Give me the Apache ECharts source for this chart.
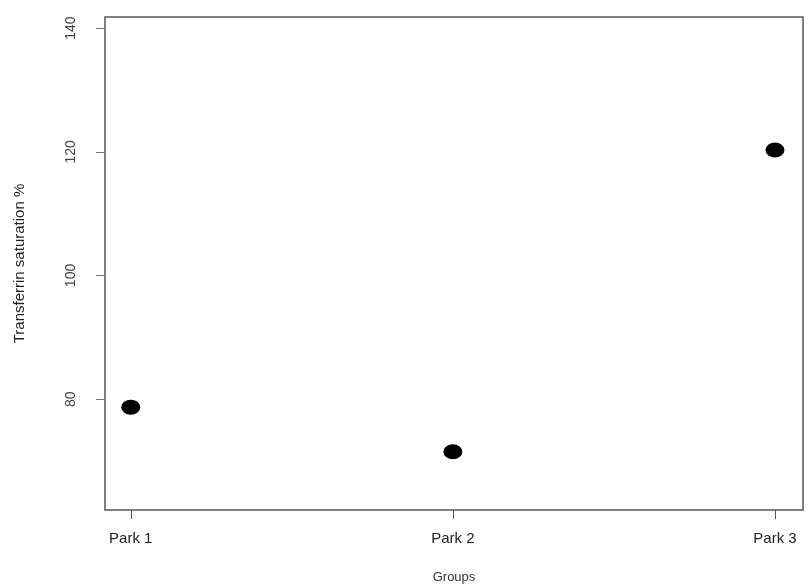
<!DOCTYPE html>
<html>
<head>
<meta charset="utf-8">
<script src="https://cdn.jsdelivr.net/npm/echarts@6/dist/echarts.min.js"></script>
<style>html,body{margin:0;padding:0;background:#fff}#c{width:811px;height:586px}</style>
</head>
<body>
<div id="c"></div>
<script>
const categories = ["Park 1", "Park 2", "Park 3"];
const categoryPositions = [1, 2, 3];
const values = [78.7, 71.5, 120.3];
const yTicks = [80, 100, 120, 140];

const chart = echarts.init(document.getElementById('c'), null, {renderer: 'canvas'});
const font = '"Liberation Sans", Arial, sans-serif';
chart.setOption({
  animation: false,
  backgroundColor: '#fff',
  grid: {left: 105, top: 17, right: 8, bottom: 76, outerBoundsMode: 'none', containLabel: false,
    show: true, borderColor: '#555', borderWidth: 1.5, backgroundColor: 'transparent'},
  xAxis: {
    type: 'value', min: 0.92, max: 3.087,
    name: 'Groups', nameLocation: 'middle', nameGap: 61,
    nameTextStyle: {fontFamily: font, fontSize: 13, color: '#333'},
    axisLine: {show: false},
    splitLine: {show: false},
    axisTick: {show: true, length: 9, lineStyle: {color: '#555'}, customValues: categoryPositions},
    axisLabel: {customValues: categoryPositions, margin: 21, fontFamily: font, fontSize: 15, color: '#222',
      formatter: v => categories[categoryPositions.indexOf(Math.round(v))] || ''}
  },
  yAxis: {
    type: 'value', min: 62.07, max: 141.8,
    name: 'Transferrin saturation %', nameLocation: 'middle', nameGap: 78,
    nameTextStyle: {fontFamily: '"Liberation Sans Narrow", ' + font, fontSize: 15, color: '#222'},
    axisLine: {show: false},
    splitLine: {show: false},
    axisTick: {show: true, length: 9, lineStyle: {color: '#777'}, customValues: yTicks},
    axisLabel: {customValues: yTicks, rotate: 90, margin: 34, fontFamily: font, fontSize: 14, color: '#444',
      verticalAlign: 'middle', align: 'center'}
  },
  series: [{
    type: 'scatter',
    data: categoryPositions.map((x, i) => [x, values[i]]),
    symbol: 'path://M0,50 A50,50 0 1,0 100,50 A50,50 0 1,0 0,50 Z',
    symbolKeepAspect: false,
    symbolSize: [19, 15],
    itemStyle: {color: '#000', opacity: 1}
  }]
});
</script>
</body>
</html>
